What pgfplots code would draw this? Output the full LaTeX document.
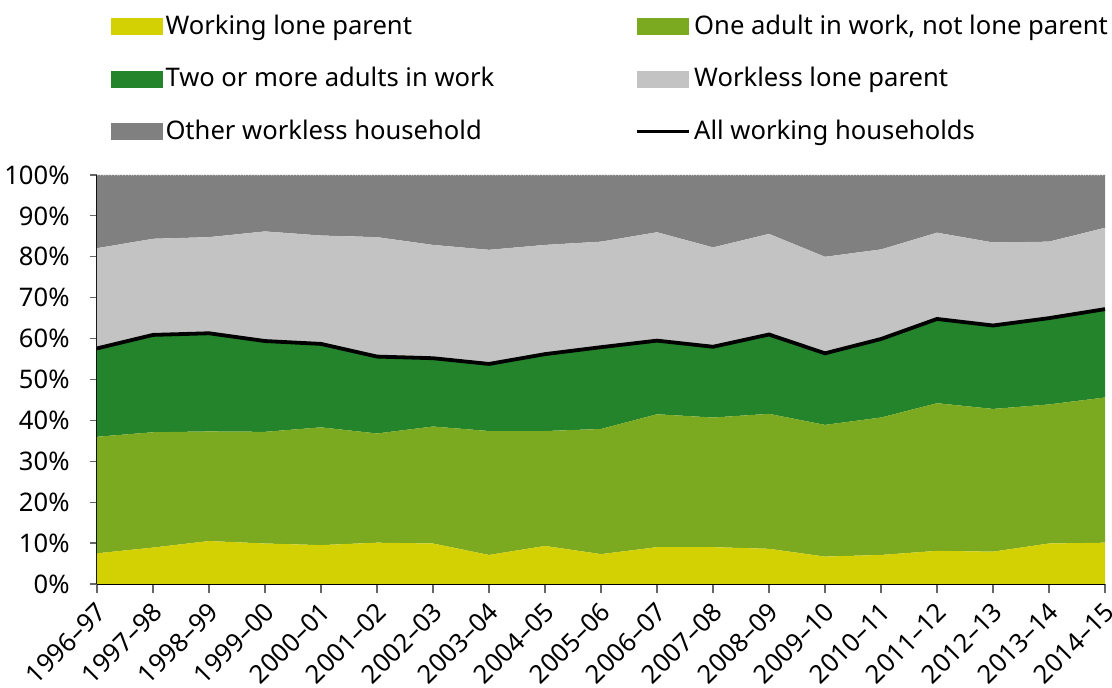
\documentclass[border=0pt]{standalone}
\usepackage{fontspec}
\setmainfont{Noto Sans}
\usepackage{pgfplots}
\pgfplotsset{compat=1.18}
\usepackage{pgfplotstable}

\definecolor{cwlp}{RGB}{211,208,4}
\definecolor{coaw}{RGB}{123,169,31}
\definecolor{ctwa}{RGB}{36,132,43}
\definecolor{cwlpn}{RGB}{195,195,195}
\definecolor{coth}{RGB}{128,128,128}

% shares of households, per cent (stacked), allw = all working households
\pgfplotstableread{
idx wlp  oaw  twa  wlpn oth  allw
0   7.5  28.5 21.6 24.5 17.9 57.6
1   8.9  28.2 23.8 23.5 15.6 60.9
2   10.5 26.8 24.0 23.5 15.2 61.3
3   9.9  27.3 22.2 26.8 13.8 59.4
4   9.5  28.8 20.4 26.5 14.8 58.7
5   10.1 26.7 18.8 29.2 15.2 55.6
6   9.9  28.6 16.7 27.7 17.1 55.2
7   7.1  30.3 16.4 27.9 18.3 53.8
8   9.3  28.1 18.8 26.7 17.1 56.2
9   7.3  30.6 20.0 25.8 16.3 57.9
10  9.0  32.5 18.0 26.5 14.0 59.5
11  9.0  31.7 17.3 24.3 17.7 58.0
12  8.6  33.0 19.4 24.6 14.4 61.0
13  6.7  32.2 17.5 23.6 20.0 56.4
14  7.1  33.6 19.2 21.9 18.2 59.9
15  8.1  36.1 20.6 21.1 14.1 64.8
16  7.9  34.9 20.4 20.3 16.5 63.2
17  9.9  34.0 21.1 18.7 16.3 65.0
18  10.1 35.5 21.6 19.9 12.9 67.2
}\shares

\pgfplotsset{
  boxleg/.style={draw=none, fill=#1,
    legend image code/.code={\fill[#1] (0pt,-4.25pt) rectangle (26pt,4.25pt);}},
  lineleg/.style={legend image code/.code={\draw[##1] (0pt,0pt) -- (26pt,0pt);}},
  common/.style={
    scale only axis, width=504pt, height=204.5pt,
    xmin=0, xmax=18, ymin=0, ymax=100,
  },
}

\begin{document}
\fontsize{12.8pt}{15pt}\selectfont
\begin{tikzpicture}
\begin{axis}[common,
  stack plots=y,
  axis x line*=bottom, axis y line*=left,
  axis line style={black, line width=0.6pt},
  xtick={0,...,18},
  xticklabels={1996–97,1997–98,1998–99,1999–00,2000–01,2001–02,2002–03,2003–04,2004–05,2005–06,2006–07,2007–08,2008–09,2009–10,2010–11,2011–12,2012–13,2013–14,2014–15},
  xticklabel style={rotate=45, anchor=east, inner sep=1pt, yshift=-7pt, xshift=-2.5pt},
  ytick={0,10,...,100},
  yticklabel={\pgfmathprintnumber{\tick}\%},
  yticklabel style={xshift=-5pt},
  /pgf/number format/assume math mode=true,
  tick align=outside,
  xtick style={gray!80!black, line width=0.6pt, /pgfplots/major tick length=4.5pt},
  ytick style={gray!80!black, line width=0.6pt, /pgfplots/major tick length=3.5pt},
  legend columns=2,
  legend cell align=left,
  legend style={draw=none, fill=none, inner sep=0pt,
    at={(axis description cs:0.013,1.077)}, anchor=south west,
    row sep=14.5pt,
    /tikz/column 2/.style={column sep=69pt},
    nodes={inner xsep=1.5pt, inner ysep=0pt}},
]
\addplot[boxleg=cwlp] table[x=idx, y=wlp] {\shares} \closedcycle;
\addlegendentry{Working lone parent}
\addplot[boxleg=coaw] table[x=idx, y=oaw] {\shares} \closedcycle;
\addlegendentry{One adult in work, not lone parent}
\addplot[boxleg=ctwa] table[x=idx, y=twa] {\shares} \closedcycle;
\addlegendentry{Two or more adults in work}
\addplot[boxleg=cwlpn] table[x=idx, y=wlpn] {\shares} \closedcycle;
\addlegendentry{Workless lone parent}
\addplot[boxleg=coth] table[x=idx, y=oth] {\shares} \closedcycle;
\addlegendentry{Other workless household}
\addlegendimage{black, line width=1.9pt, lineleg}
\addlegendentry{All working households}
\coordinate (bl) at (rel axis cs:0,0);
\coordinate (tr) at (rel axis cs:1,1);
\end{axis}
\begin{axis}[common, hide axis]
\addplot[black, line width=1.9pt, mark=none] table[x=idx, y=allw] {\shares};
\end{axis}
\draw[gray!60, densely dotted, line width=0.4pt] (bl |- tr) -- (tr);
\pgfresetboundingbox
\useasboundingbox ([shift={(-48.5pt,-52pt)}]bl) rectangle ([shift={(3.5pt,87.5pt)}]tr);
\end{tikzpicture}
\end{document}
